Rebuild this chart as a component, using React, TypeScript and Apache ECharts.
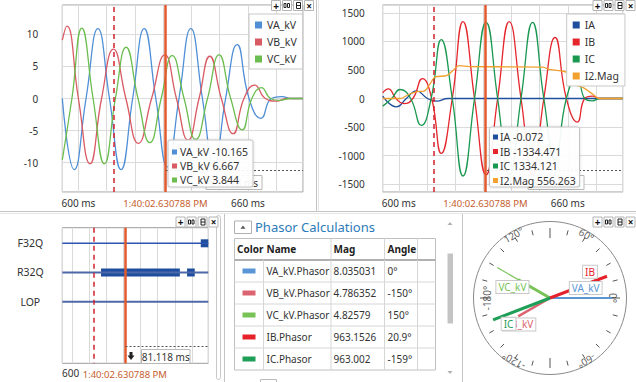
import React, { useEffect, useRef } from 'react';
import * as echarts from 'echarts';

const FONT = '"Noto Sans", "Open Sans", Arial, sans-serif';

// ---- time axis (ms) ----
const T_MIN = 594.3;
const T_MAX = 679.5;
const TRIGGER_T = 612.5;
const CURSOR_T = 630.788;
const CURSOR_LABEL = '1:40:02.630788 PM';
const DELTA_LABEL = '81.118 ms';
const X_TICKS = [600, 660];
const X_TICK_TEXT = ['600 ms', '660 ms'];

// ---- voltages (kV) ----
const voltNames = ['VA_kV', 'VB_kV', 'VC_kV'];
const voltColors = ['#4f8fd6', '#d95a63', '#6cbd4f'];
const vaT = [594.3, 598.5, 602.7, 606.9, 611.0, 615.1, 619.2, 623.3, 627.4, 631.5, 635.6, 639.8, 643.9, 648.0, 652.1, 656.2, 660.4, 664.6, 668.3, 672.0, 675.5, 679.5];
const vaV = [0, -11.1, 0, 10.9, 0, -11.1, 0, 10.9, 0, -10.7, 0, 10.9, 0, -10.6, 0, 8.4, 0, -3.1, 0, 0.3, 0, 0];
const vbT = [594.3, 595.9, 600.0, 604.1, 608.2, 612.4, 616.8, 621.2, 625.9, 630.6, 634.7, 638.8, 642.7, 646.5, 650.6, 654.8, 658.6, 662.4, 666.2, 670.0, 674.0, 679.5];
const vbV = [9.1, 11.3, 0, -10.2, 0, 7.7, 0, -7.0, 0, 6.8, 0, -6.5, 0, 6.6, 0, -5.5, 0, 2.1, 0, -0.4, 0, 0];
const vcT = [594.3, 597.7, 601.2, 605.2, 609.2, 613.1, 616.9, 621.1, 625.3, 629.3, 633.2, 637.4, 641.5, 645.7, 649.8, 653.9, 658.0, 661.4, 664.8, 668.0, 671.2, 675.0, 679.5];
const vcV = [-9.6, 0, 11.0, 0, -10.2, 0, 8.0, 0, -6.9, 0, 6.7, 0, -6.4, 0, 6.8, 0, -4.9, 0, 1.7, 0, -0.3, 0, 0];
const voltTipValues = [-10.165, 6.667, 3.844];

// ---- currents (A) ----
const currNames = ['IA', 'IB', 'IC', 'I2.Mag'];
const currColors = ['#1f4e9c', '#e5262c', '#1a9850', '#f2a12f'];
const iaT = [594.3, 599.2, 602.7, 606.3, 610.2, 613.4, 617.5, 640.0, 679.5];
const iaV = [41, -146, 0, 134, 0, -47, 0, 0, 0];
const ibT = [594.3, 596.3, 599.0, 601.8, 605.0, 608.4, 611.7, 615.1, 619.0, 622.8, 626.9, 631.0, 635.1, 639.2, 643.4, 647.5, 651.5, 655.5, 659.5, 663.4, 666.0, 668.7, 671.5, 679.5];
const ibV = [100, 169, 0, -90, 0, 350, 0, -963, 0, 1350, 0, -1340, 0, 1350, 0, -1340, 0, 1070, 0, -414, 0, 40, 0, 0];
const icT = [594.3, 597.5, 600.4, 604.2, 608.0, 611.5, 615.1, 619.0, 622.8, 626.9, 631.0, 635.1, 639.2, 643.4, 647.5, 651.5, 655.5, 659.5, 663.4, 666.0, 668.7, 671.5, 679.5];
const icV = [-134, 0, 158, 0, -473, 0, 1033, 0, -1359, 0, 1336, 0, -1340, 0, 1336, 0, -1080, 0, 400, 0, -40, 0, 0];
const i2T = [594.3, 600.5, 603.5, 606.5, 609.0, 611.0, 613.0, 617.0, 619.0, 621.5, 625.0, 640.0, 651.0, 654.0, 658.5, 661.0, 662.5, 665.5, 669.0, 671.0, 679.5];
const i2V = [0, 0, 70, 120, 130, 250, 380, 400, 480, 575, 560, 556, 550, 505, 478, 420, 245, 190, 70, 0, 0];
const currTipValues = [-0.072, -1334.471, 1334.121, 556.263];

// ---- digital channels ----
const digitalNames = ['F32Q', 'R32Q', 'LOP'];
const digitalColors = ['#2a55b0', '#4d68a8', '#5068a8'];
const barRows = [2, 2, 1];
const barStarts = [616.9, 667.1, 675.1];
const barEnds = [662.9, 671.6, 679.5];

// ---- phasors ----
const phasorNames = ['VA_kV.Phasor', 'VB_kV.Phasor', 'VC_kV.Phasor', 'IB.Phasor', 'IC.Phasor'];
const phasorShort = ['VA_kV', 'VB_kV', 'VC_kV', 'IB', 'IC'];
const phasorMags = [8.035031, 4.786352, 4.82579, 963.1526, 963.002];
const phasorAngles = [0, -150, 150, 20.9, -159];
const phasorIsCurrent = [false, false, false, true, true];
const phasorColors = ['#5a96d6', '#dc6470', '#78c257', '#e5222a', '#1f9e57'];
const angleTickValues = [0, 60, 120, -180, -120, -60];
const angleTickText = ['0°', '60°', '120°', '-180°', '-120°', '-60°'];

// ---- layout ----
const PC = [550, 298];
const R_OUT = 76.5;
const R_IN = 70;
const V_MAX = (phasorMags[0] * R_IN) / 61.7;
const I_MAX = (phasorMags[3] * R_IN) / 61;
const labelOffsets = [[-26, -10], [1, 8], [-5.5, 7.5], [-17, -4.5], [15.5, 4]];
const phasorWidths = [2, 2.5, 3, 3, 3];

const pairs = (t: number[], v: number[]) => t.map((x, i) => [x, v[i]]);

function txt(x: number, y: number, text: string, o: any = {}) {
  return {
    type: 'text',
    z: o.z ?? 60,
    silent: true,
    style: {
      text, x, y,
      fill: o.fill ?? '#333',
      fontSize: o.size ?? 10,
      fontFamily: FONT,
      fontWeight: o.weight ?? 'normal',
      align: o.align ?? 'left', textAlign: o.align ?? 'left',
      verticalAlign: 'middle', textVerticalAlign: 'middle',
    },
  };
}
function rect(x: number, y: number, w: number, h: number, style: any, z = 50, r = 0) {
  return { type: 'rect', z, silent: true, shape: { x, y, width: w, height: h, r }, style };
}
function line(x1: number, y1: number, x2: number, y2: number, style: any, z = 50) {
  return { type: 'line', z, silent: true, shape: { x1, y1, x2, y2 }, style };
}

function toolbar(x: number, y: number) {
  const els: any[] = [];
  for (let i = 0; i < 4; i++) {
    els.push(rect(x + i * 11 + 0.5, y + 0.5, 9, 10, { fill: '#fff', stroke: '#b4b4b4', lineWidth: 1 }, 120));
  }
  els.push(txt(x + 5, y + 5.5, '+', { z: 121, weight: 'bold', fill: '#111', align: 'center' }));
  els.push(rect(x + 13, y + 3.5, 2, 4, { fill: 'none', stroke: '#222', lineWidth: 1 }, 121));
  els.push(rect(x + 16.5, y + 3.5, 2, 4, { fill: 'none', stroke: '#222', lineWidth: 1 }, 121));
  els.push(rect(x + 25.5, y + 2.5, 4, 6, { fill: 'none', stroke: '#222', lineWidth: 1 }, 121));
  els.push(line(x + 25.5, y + 5.5, x + 29.5, y + 5.5, { stroke: '#222', lineWidth: 1 }, 121));
  els.push(txt(x + 38, y + 5.5, '×', { z: 121, weight: 'bold', fill: '#111', align: 'center' }));
  return els;
}

function tooltip(x: number, y: number, w: number, h: number, names: string[], values: number[], colors: string[], rowY: number[], sqX: number, tX: number) {
  const els: any[] = [
    rect(x, y, w, h, { fill: 'rgba(255,255,255,0.93)', stroke: '#c4c4c4', lineWidth: 1, shadowBlur: 3, shadowColor: 'rgba(0,0,0,0.15)' }, 100, 2),
  ];
  names.forEach((n, i) => {
    els.push(rect(sqX, rowY[i] - 2.5, 5, 5, { fill: colors[i] }, 101));
    els.push(txt(tX, rowY[i], `${n} ${values[i].toFixed(3)}`, { z: 101, size: 10.5 }));
  });
  return els;
}

function measure(lineX1: number, lineX2: number, ly: number, bx: number, by: number, bw: number, bh: number) {
  return [
    line(lineX1, ly, lineX2, ly, { stroke: '#555', lineWidth: 1, lineDash: [2, 2] }, 40),
    rect(bx, by, bw, bh, { fill: '#fff', stroke: '#b8b8b8', lineWidth: 1 }, 41),
    txt(bx + bw / 2, by + bh / 2, DELTA_LABEL, { z: 42, align: 'center' }),
  ];
}

function xAxisFor(gridIndex: number, shown: number[], margin: number, padLeft = 0) {
  return {
    type: 'value', gridIndex, min: T_MIN, max: T_MAX, minInterval: 10, maxInterval: 10,
    axisLine: { show: false }, axisTick: { show: false },
    splitLine: { show: true, lineStyle: { color: '#dadada', width: 1 } },
    axisLabel: {
      margin, fontFamily: FONT, fontSize: 10, color: '#333', padding: [0, 0, 0, padLeft],
      formatter: (v: number) => {
        const k = X_TICKS.findIndex((t) => Math.abs(t - v) < 1e-6);
        return k >= 0 && shown.includes(X_TICKS[k]) ? X_TICK_TEXT[k] : '';
      },
    },
  };
}

function stepLabel(step: number) {
  return (v: number) => (Math.abs(v / step - Math.round(v / step)) < 1e-6 ? String(Math.round(v)) : '');
}

function cursorSeries(xi: number, yi: number, pos: string) {
  return {
    type: 'line', xAxisIndex: xi, yAxisIndex: yi, data: [], z: 5, silent: true,
    markLine: {
      silent: true, symbol: ['none', 'none'], animation: false,
      data: [
        { xAxis: TRIGGER_T, lineStyle: { color: '#d2222e', width: 1.5, type: [5, 4] }, label: { show: false } },
        {
          xAxis: CURSOR_T, lineStyle: { color: '#e25a2c', width: 2.5, type: 'solid' },
          label: { show: true, position: pos, formatter: CURSOR_LABEL, color: '#c55d2d', fontFamily: FONT, fontSize: 9.5, distance: 5, backgroundColor: '#fff', padding: [1, 1] },
        },
      ],
    },
  };
}

function buildOption(): any {
  const series: any[] = [];
  [[vaT, vaV], [vbT, vbV], [vcT, vcV]].forEach(([t, v], i) =>
    series.push({
      type: 'line', name: voltNames[i], xAxisIndex: 0, yAxisIndex: 0, data: pairs(t, v), smooth: 0.5,
      showSymbol: false, symbol: 'none', lineStyle: { width: 1.3, color: voltColors[i] }, itemStyle: { color: voltColors[i] },
    })
  );
  series.push(cursorSeries(0, 0, 'start'));
  [[iaT, iaV], [ibT, ibV], [icT, icV], [i2T, i2V]].forEach(([t, v], i) =>
    series.push({
      type: 'line', name: currNames[i], xAxisIndex: 1, yAxisIndex: 1, data: pairs(t, v), smooth: i === 3 ? 0.3 : 0.5,
      showSymbol: false, symbol: 'none', lineStyle: { width: 1.3, color: currColors[i] }, itemStyle: { color: currColors[i] },
    })
  );
  series.push(cursorSeries(1, 1, 'start'));
  digitalNames.forEach((_, i) =>
    series.push({
      type: 'line', xAxisIndex: 2, yAxisIndex: 2, data: [[T_MIN, i + 1], [T_MAX, i + 1]], silent: true,
      showSymbol: false, symbol: 'none', lineStyle: { width: i === 0 ? 1.5 : 2, color: digitalColors[i] },
    })
  );
  series.push({
    type: 'custom', xAxisIndex: 2, yAxisIndex: 2, silent: true,
    data: barRows.map((r, i) => [r, barStarts[i], barEnds[i]]),
    encode: { x: [1, 2], y: 0 },
    renderItem: (_p: any, api: any) => {
      const row = api.value(0);
      const s = api.coord([api.value(1), row]);
      const e = api.coord([api.value(2), row]);
      return { type: 'rect', shape: { x: s[0], y: s[1] - 4, width: e[0] - s[0], height: 8 }, style: { fill: '#1f4e9e' } };
    },
  });
  series.push(cursorSeries(2, 2, 'end'));

  // polar angle labels
  series.push({
    type: 'scatter', coordinateSystem: 'polar', polarIndex: 0, symbolSize: 0, silent: true,
    data: angleTickValues.map((a, i) => ({
      value: [Math.abs(Math.cos((a * Math.PI) / 180)) > 0.95 ? 63 : 73, a],
      label: { show: true, position: 'inside', formatter: angleTickText[i], rotate: a - 90, color: '#333', fontSize: 10, fontFamily: FONT },
    })),
  });
  // VC guide line
  series.push({
    type: 'line', coordinateSystem: 'polar', polarIndex: 1, silent: true, showSymbol: false, symbol: 'none',
    data: [[phasorMags[2], phasorAngles[2]], [(61 / R_IN) * V_MAX, phasorAngles[2]]],
    lineStyle: { width: 1.2, color: phasorColors[2] },
  });
  phasorMags.forEach((m, i) => {
    series.push({
      type: 'line', coordinateSystem: 'polar', polarIndex: phasorIsCurrent[i] ? 2 : 1, silent: true,
      showSymbol: true, symbol: 'circle', symbolSize: 0,
      lineStyle: { width: phasorWidths[i], color: phasorColors[i], cap: 'butt' }, itemStyle: { color: phasorColors[i] },
      label: { show: false },
      data: [
        [0, phasorAngles[i]],
        {
          value: [m, phasorAngles[i]],
          label: {
            show: true, position: 'inside', offset: labelOffsets[i], formatter: phasorShort[i], color: phasorColors[i],
            fontFamily: FONT, fontSize: 10, backgroundColor: '#fff', borderColor: '#c8c8c8', borderWidth: 1, padding: [1, 2],
          },
        },
      ],
    });
  });

  // ---- graphics ----
  const g: any[] = [];
  g.push(line(0, 211.5, 636, 211.5, { stroke: '#c4c4c4', lineWidth: 1 }, 10));
  g.push(line(0, 213.5, 636, 213.5, { stroke: '#e6e6e6', lineWidth: 1 }, 10));
  g.push(line(316.5, 0, 316.5, 211, { stroke: '#c4c4c4', lineWidth: 1 }, 10));
  g.push(line(318.5, 0, 318.5, 211, { stroke: '#e6e6e6', lineWidth: 1 }, 10));
  g.push(rect(216.5, 215.5, 4, 164, { fill: 'none', stroke: '#c8c8c8', lineWidth: 1 }, 10, 2));
  g.push(line(224.5, 214, 224.5, 382, { stroke: '#c4c4c4', lineWidth: 1 }, 10));
  g.push(line(462.5, 214, 462.5, 382, { stroke: '#c4c4c4', lineWidth: 1 }, 10));
  g.push(...toolbar(271, 0), ...toolbar(592.5, 0), ...toolbar(175.5, 216.5), ...toolbar(592.5, 216.5));
  g.push(...measure(166, 303, 170.5, 206, 175.5, 56, 14));
  g.push(...measure(487, 622.5, 170.5, 528, 175.5, 56, 14));
  g.push(...measure(125.5, 208, 346.5, 141.5, 349.5, 48.5, 14));
  g.push({ type: 'polygon', z: 42, silent: true, shape: { points: [[129.5, 352], [132.5, 352], [132.5, 355.5], [134.5, 355.5], [131, 360], [127.5, 355.5], [129.5, 355.5]] }, style: { fill: '#222' } });
  g.push(...tooltip(168, 140, 85, 47, voltNames, voltTipValues, voltColors, [152, 166, 180], 172, 180));
  g.push(...tooltip(489.5, 127, 90, 60, currNames, currTipValues, currColors, [137, 151.5, 166, 180.5], 493, 500));

  // phasor table panel
  g.push(rect(234.5, 221, 17, 12.5, { fill: '#fff', stroke: '#b0b0b0', lineWidth: 1 }, 50));
  g.push({ type: 'polygon', z: 51, silent: true, shape: { points: [[240.5, 228.7], [245.5, 228.7], [243, 225.5]] }, style: { fill: '#555' } });
  g.push(txt(255, 226.5, 'Phasor Calculations', { size: 13, fill: '#2b7bb9' }));
  const TX = [234.5, 263.5, 331, 384.5, 417.5, 435.5];
  const headY = 238.5, bodyY = 260, rowH = 22, nRows = phasorNames.length;
  const bottom = bodyY + rowH * nRows;
  g.push(rect(TX[0], headY, TX[5] - TX[0], bottom - headY, { fill: '#fff', stroke: '#c0c0c0', lineWidth: 1 }, 48));
  g.push(line(TX[0], bodyY, TX[5], bodyY, { stroke: '#b0b0b0', lineWidth: 2 }, 49));
  for (let i = 1; i < nRows; i++) g.push(line(TX[0], bodyY + rowH * i, TX[5], bodyY + rowH * i, { stroke: '#d6d6d6', lineWidth: 1 }, 49));
  [1, 2, 3, 4].forEach((k) => g.push(line(TX[k], bodyY, TX[k], bottom, { stroke: '#d6d6d6', lineWidth: 1 }, 49)));
  [2, 3, 4].forEach((k) => g.push(line(TX[k], headY, TX[k], bodyY - 1, { stroke: '#d6d6d6', lineWidth: 1 }, 49)));
  const hy = (headY + bodyY) / 2;
  g.push(txt(237, hy, 'Color', { weight: 'bold', fill: '#222' }));
  g.push(txt(266.5, hy, 'Name', { weight: 'bold', fill: '#222' }));
  g.push(txt(333.5, hy, 'Mag', { weight: 'bold', fill: '#222' }));
  g.push(txt(387.5, hy, 'Angle', { weight: 'bold', fill: '#222' }));
  phasorNames.forEach((n, i) => {
    const cy = bodyY + rowH * i + rowH / 2;
    g.push(rect(242.5, cy - 2.5, 13, 5, { fill: phasorColors[i] }, 51));
    g.push(txt(266.5, cy, n));
    g.push(txt(333.5, cy, String(phasorMags[i])));
    g.push(txt(387.5, cy, `${phasorAngles[i]}°`));
  });
  g.push({ type: 'polygon', z: 50, silent: true, shape: { points: [[447.5, 225], [452.5, 225], [450, 222]] }, style: { fill: '#b0b0b0' } });
  g.push(rect(447.5, 253.5, 5.5, 70, { fill: '#c4c4c4' }, 50));
  g.push({ type: 'polygon', z: 50, silent: true, shape: { points: [[447.5, 371], [452.5, 371], [450, 374]] }, style: { fill: '#b0b0b0' } });
  g.push(rect(260.5, 379.5, 16, 10, { fill: '#fff', stroke: '#bbbbbb', lineWidth: 1 }, 50));

  const legendBase = {
    orient: 'vertical', icon: 'rect', itemWidth: 7, itemHeight: 7, itemGap: 5,
    backgroundColor: '#fff', borderColor: '#c8c8c8', borderWidth: 1, padding: [5, 6, 4, 6],
    textStyle: { fontFamily: FONT, fontSize: 10.5, color: '#333', lineHeight: 12 },
    selectedMode: false, z: 20,
  };

  const hiddenAngle = (pi: number) => ({
    polarIndex: pi, type: 'value', min: -180, max: 180, startAngle: 180, clockwise: false,
    axisLine: { show: false }, axisTick: { show: false }, axisLabel: { show: false }, splitLine: { show: false },
  });

  return {
    animation: false,
    backgroundColor: '#fff',
    textStyle: { fontFamily: FONT },
    grid: [
      { left: 62.3, top: 5, width: 240.7, height: 187, show: true, borderColor: '#9c9c9c', borderWidth: 1, backgroundColor: '#fff', containLabel: false, outerBoundsMode: 'none' },
      { left: 382.7, top: 5, width: 240, height: 187, show: true, borderColor: '#9c9c9c', borderWidth: 1, backgroundColor: '#fff', containLabel: false, outerBoundsMode: 'none' },
      { left: 62.3, top: 227.7, width: 146, height: 135.6, show: true, borderColor: '#9c9c9c', borderWidth: 1, backgroundColor: '#fff', containLabel: false, outerBoundsMode: 'none' },
    ],
    xAxis: [xAxisFor(0, [600, 660], 6), xAxisFor(1, [600, 660], 6), xAxisFor(2, [600], 5, 14)],
    yAxis: [
      {
        type: 'value', gridIndex: 0, min: -14.6, max: 14.6, minInterval: 5, maxInterval: 5,
        axisLine: { show: false }, axisTick: { show: false }, splitLine: { lineStyle: { color: '#dadada' } },
        axisLabel: { margin: 24, fontFamily: FONT, fontSize: 10, color: '#333', formatter: stepLabel(5) },
      },
      {
        type: 'value', gridIndex: 1, min: -1640, max: 1640, minInterval: 500, maxInterval: 500,
        axisLine: { show: false }, axisTick: { show: false }, splitLine: { lineStyle: { color: '#dadada' } },
        axisLabel: { margin: 18, fontFamily: FONT, fontSize: 10, color: '#333', formatter: stepLabel(500) },
      },
      {
        type: 'value', gridIndex: 2, min: 0.466, max: 5.11, minInterval: 1, maxInterval: 1, inverse: true,
        axisLine: { show: false }, axisTick: { show: false }, splitLine: { show: false },
        axisLabel: {
          margin: 32, align: 'center', fontFamily: FONT, fontSize: 10.5, color: '#333',
          formatter: (v: number) => {
            const k = Math.round(v);
            return Math.abs(v - k) < 1e-6 && k >= 1 && k <= digitalNames.length ? digitalNames[k - 1] : '';
          },
        },
      },
    ],
    polar: [
      { center: PC, radius: R_OUT },
      { center: PC, radius: R_IN },
      { center: PC, radius: R_IN },
    ],
    angleAxis: [
      { ...hiddenAngle(0), axisLine: { show: true, lineStyle: { color: '#8a8a8a', width: 1 } } },
      {
        ...hiddenAngle(1), interval: 90,
        axisTick: { show: true, inside: true, length: 10, lineStyle: { color: '#555', width: 1 } },
        minorTick: { show: true, splitNumber: 6, length: 5, lineStyle: { color: '#555', width: 1 } },
      },
      hiddenAngle(2),
    ],
    radiusAxis: [
      { polarIndex: 0, type: 'value', min: 0, max: R_OUT, show: false },
      { polarIndex: 1, type: 'value', min: 0, max: V_MAX, show: false },
      { polarIndex: 2, type: 'value', min: 0, max: I_MAX, show: false },
    ],
    legend: [
      { ...legendBase, data: voltNames, left: 249, top: 14 },
      { ...legendBase, data: currNames, left: 566.7, top: 14 },
    ],
    series,
    graphic: { elements: g },
  };
}

export default function App() {
  const ref = useRef<HTMLDivElement>(null);
  useEffect(() => {
    if (!ref.current) return;
    const chart = echarts.init(ref.current, undefined, { renderer: 'svg' });
    chart.setOption(buildOption());
    return () => chart.dispose();
  }, []);
  return <div ref={ref} style={{ position: 'absolute', left: 0, top: 0, width: 636, height: 382, background: '#fff' }} />;
}
